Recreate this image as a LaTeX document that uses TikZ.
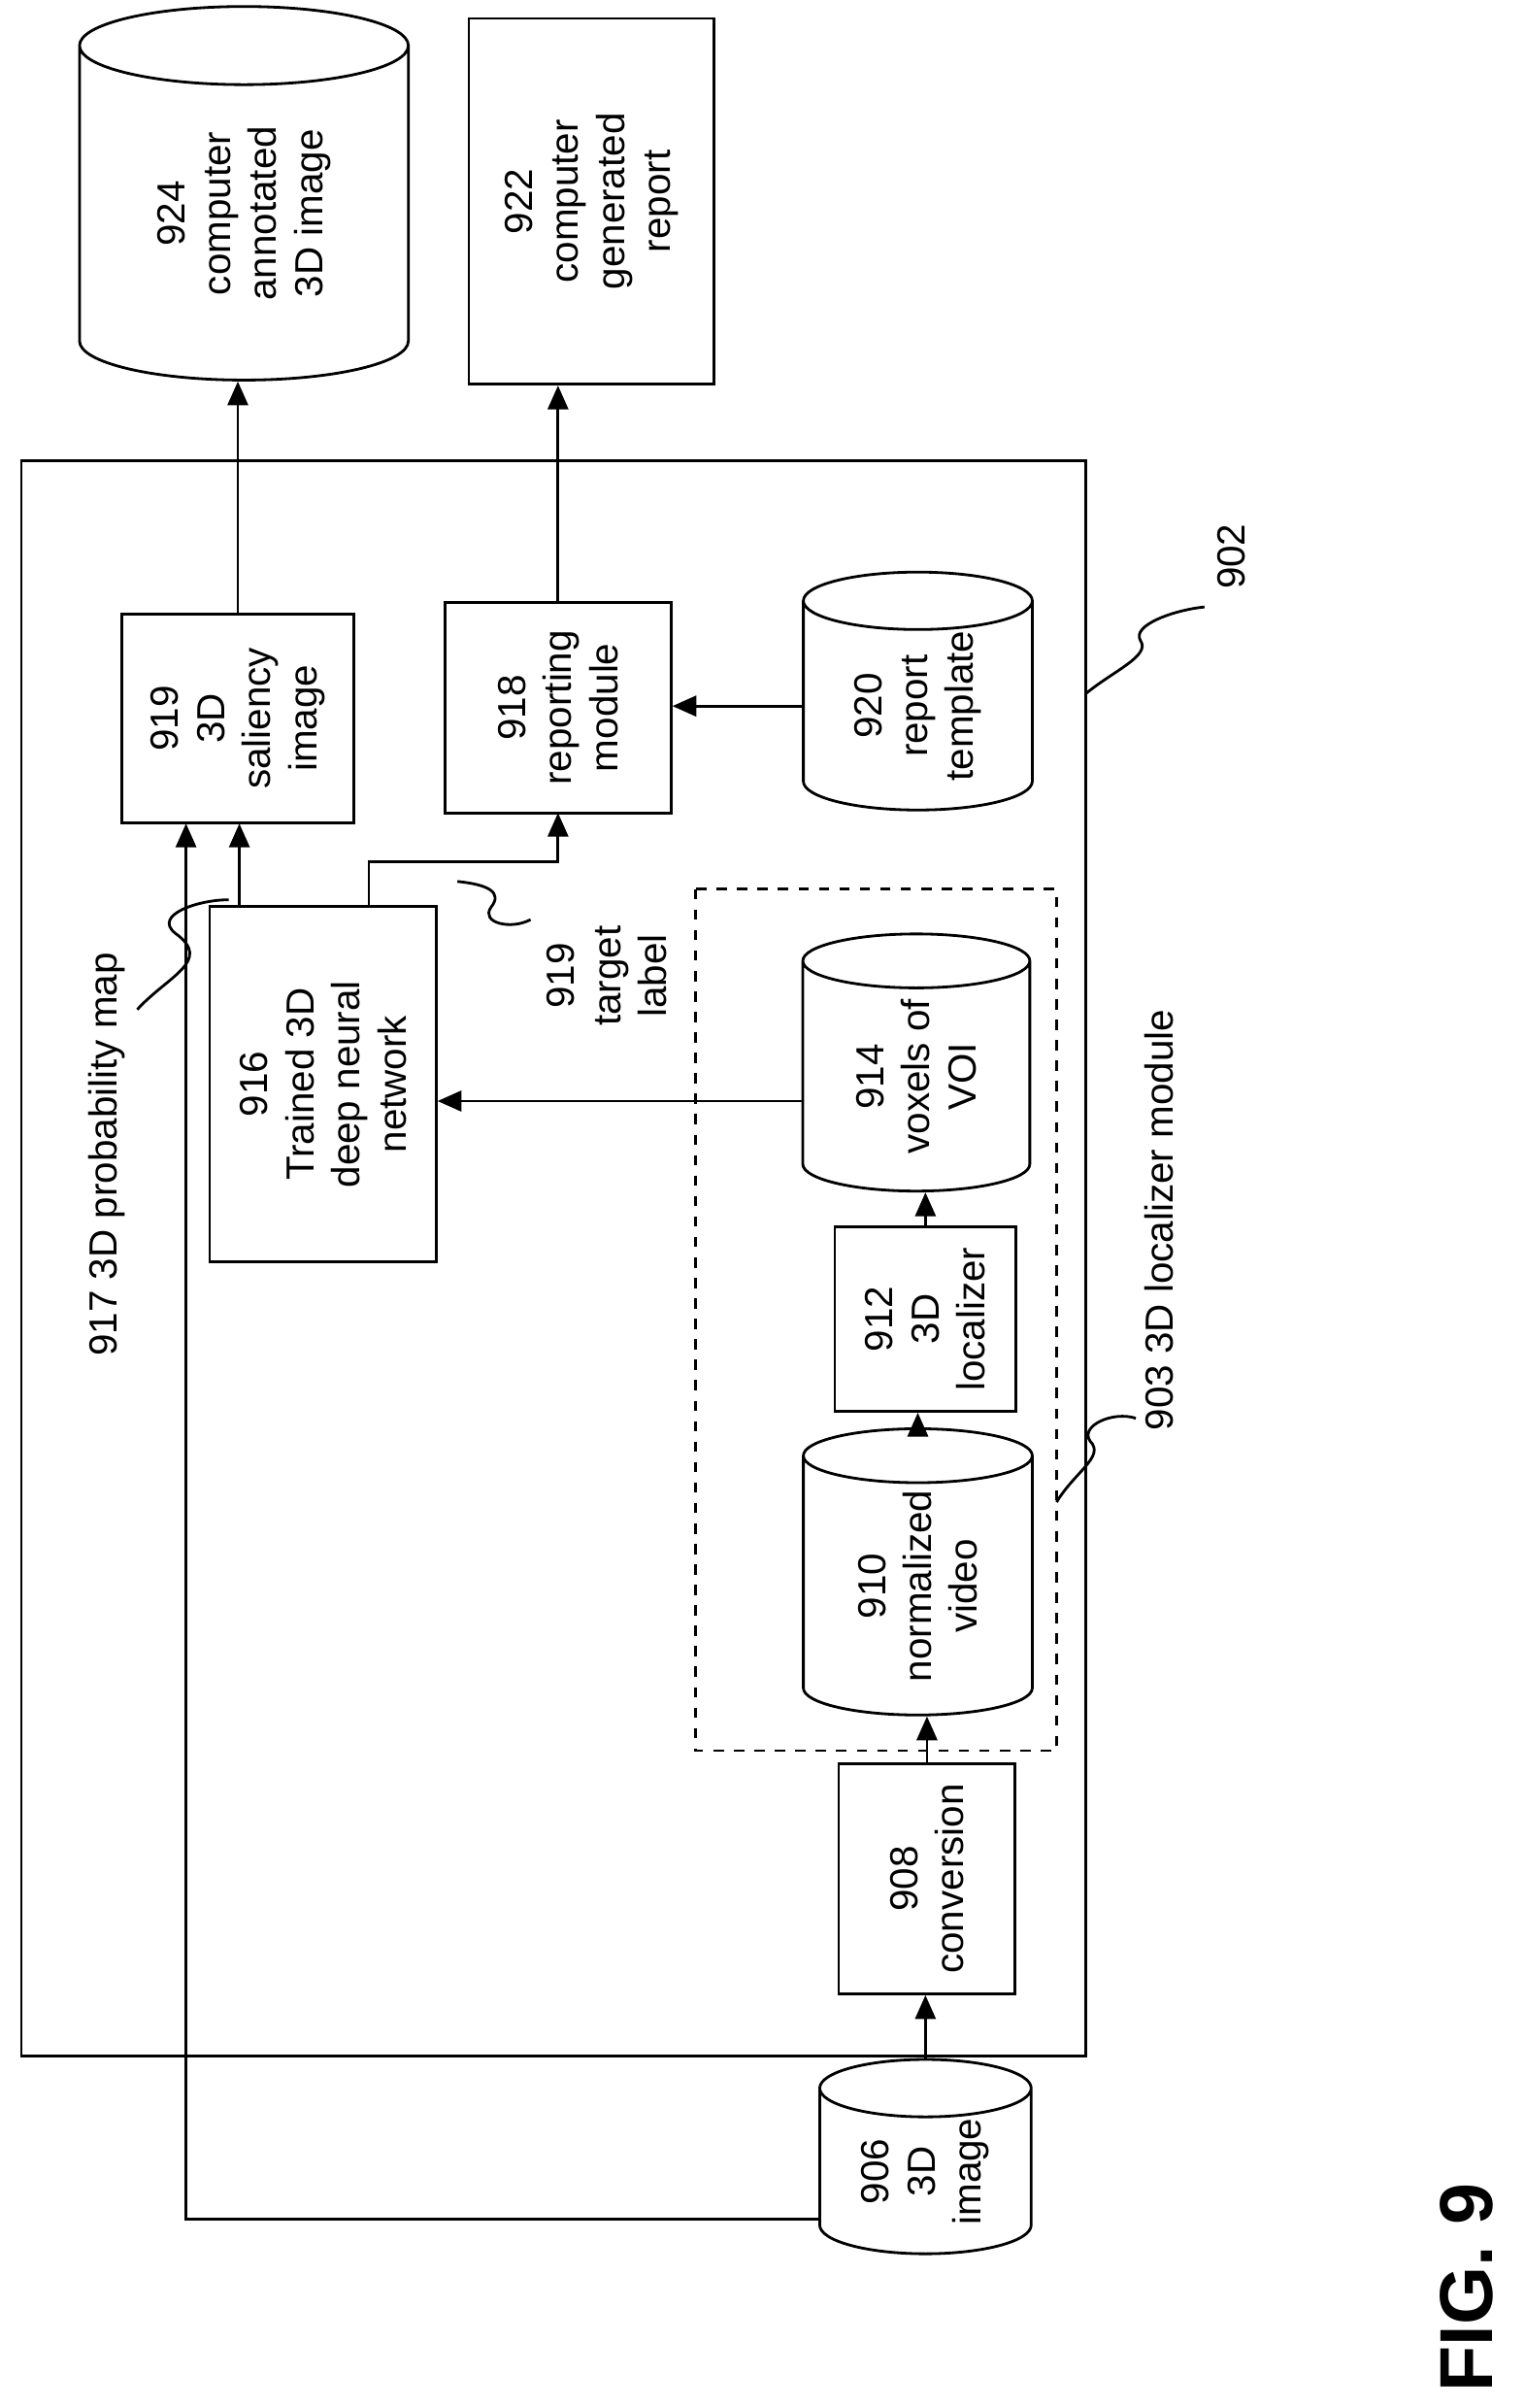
\documentclass[tikz,border=0pt]{standalone}
\usepackage{fontspec}
\setmainfont{Liberation Sans}
\usetikzlibrary{shapes.geometric,arrows.meta}
\begin{document}
\begin{tikzpicture}[x=0.01571cm,y=-0.01571cm,
  font=\fontsize{11.5}{13.5}\selectfont,
  box/.style={draw,thick,rotate=90,align=center,inner sep=0pt},
  db/.style={draw,thick,cylinder,shape aspect=0.45,rotate=90,align=center,inner sep=0pt},
  arr/.style={thick,-{Triangle[length=7pt,width=6pt]}},
  wig/.style={thick}]
\useasboundingbox (0,0) rectangle (1000,1579);
% outer module and localizer group
\draw[thick] (14,302) rectangle (712,1348);
\draw[thick,dashed] (456,583) rectangle (693,1148);
% stores and blocks
\node[db,minimum height=3.85cm,minimum width=3.39cm] (n924) at (160,140) {924\\computer\\annotated\\3D image};
\node[box,minimum width=3.77cm,minimum height=2.53cm] (n922) at (388,132) {922\\computer\\generated\\report};
\node[box,minimum width=2.15cm,minimum height=2.39cm] (n919) at (156,471) {919\\3D\\saliency\\image};
\node[box,minimum width=2.17cm,minimum height=2.33cm] (n918) at (366,464) {918\\reporting\\module};
\node[db,minimum height=2.25cm,minimum width=2.36cm] (n920) at (602,463) {920\\report\\template};
\node[box,minimum width=3.66cm,minimum height=2.34cm] (n916) at (212,711) {916\\Trained 3D\\deep neural\\network};
\node[db,minimum height=2.65cm,minimum width=2.34cm] (n914) at (601,706) {914\\voxels of\\VOI};
\node[box,minimum width=1.9cm,minimum height=1.87cm] (n912) at (607,865) {912\\3D\\localizer};
\node[db,minimum height=2.95cm,minimum width=2.36cm] (n910) at (602,1040) {910\\normalized\\video};
\node[box,minimum width=2.37cm,minimum height=1.82cm] (n908) at (608,1232) {908\\conversion};
\node[db,minimum height=1.76cm,minimum width=2.18cm] (n906) at (607,1424) {906\\3D\\image};
% annotations
\node[rotate=90] (l917) at (70,757) {917 3D probability map};
\node[rotate=90,align=center] (l919) at (398,640) {919\\target\\label};
\node[rotate=90] (l903) at (760,800) {903 3D localizer module};
\node[rotate=90] (l902) at (808,365) {902};
\node[rotate=90,font=\bfseries\fontsize{22}{24}\selectfont] (fig) at (962,1500) {FIG. 9};
% connectors
\draw[arr] (n919.east) -- (n919.east |- n924.west);
\draw[arr] (n918.east) -- (n918.east |- n922.west);
\draw[arr] (n920.north) -- (n920.north -| n918.south);
\draw[arr] (157,595) -- (157,540);
\draw[arr] (242,595) -- (242,565) -- (366,565) -- (366,533);
\draw[arr] (n914.north |- 0,722) -- (287,722);
\draw[arr] (n908.east) -- (n908.east |- n910.west);
\draw[arr] (n910.east) -- (n910.east |- n912.west);
\draw[arr] (n912.east) -- (n912.east |- n914.west);
\draw[arr] (n906.east) -- (n906.east |- n908.west);
\draw[arr] (n906.north |- 0,1455) -- (122,1455) -- (122,540);
% wiggles
\draw[wig] (90,662) .. controls (110,640) and (140,630) .. (115,612) .. controls (100,600) and (130,590) .. (150,590);
\draw[wig] (300,578) .. controls (320,580) and (330,585) .. (322,595) .. controls (315,605) and (335,610) .. (348,603);
\draw[wig] (693,985) .. controls (705,965) and (725,955) .. (715,945) .. controls (708,935) and (730,925) .. (745,930);
\draw[wig] (712,455) .. controls (730,440) and (755,430) .. (748,420) .. controls (742,410) and (770,400) .. (790,398);
\end{tikzpicture}
\end{document}
